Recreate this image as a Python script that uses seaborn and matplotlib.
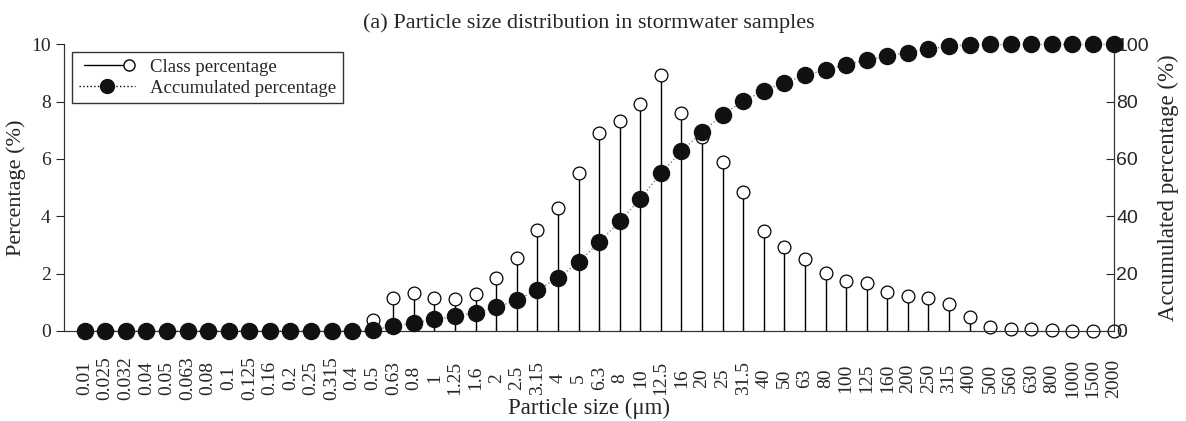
import seaborn as sns
import pandas as pd
import matplotlib.pyplot as plt
from matplotlib.legend_handler import HandlerLine2D
import numpy as np

sizes = ["0.01", "0.025", "0.032", "0.04", "0.05", "0.063", "0.08", "0.1", "0.125", "0.16",
         "0.2", "0.25", "0.315", "0.4", "0.5", "0.63", "0.8", "1", "1.25", "1.6",
         "2", "2.5", "3.15", "4", "5", "6.3", "8", "10", "12.5", "16",
         "20", "25", "31.5", "40", "50", "63", "80", "100", "125", "160",
         "200", "250", "315", "400", "500", "560", "630", "800", "1000", "1500", "2000"]

class_pct = [0, 0, 0, 0, 0, 0, 0, 0, 0, 0,
             0, 0, 0, 0, 0.38, 1.15, 1.31, 1.15, 1.1, 1.29,
             1.83, 2.54, 3.52, 4.27, 5.52, 6.89, 7.33, 7.93, 8.91, 7.61,
             6.77, 5.9, 4.83, 3.5, 2.94, 2.51, 2.01, 1.75, 1.66, 1.34,
             1.23, 1.16, 0.94, 0.5, 0.15, 0.07, 0.05, 0.02, 0, 0, 0]

accum_pct = [0, 0, 0, 0, 0, 0, 0, 0, 0, 0,
             0, 0, 0, 0, 0.4, 1.6, 2.8, 4.0, 5.1, 6.4,
             8.2, 10.7, 14.3, 18.5, 24.0, 30.9, 38.2, 46.1, 55.0, 62.6,
             69.4, 75.3, 80.2, 83.7, 86.6, 89.1, 91.1, 92.9, 94.5, 95.9,
             97.1, 98.3, 99.3, 99.8, 99.9, 100, 100, 100, 100, 100, 100]

df = pd.DataFrame({"pos": np.arange(len(sizes)), "size": sizes,
                   "class_pct": class_pct, "accum_pct": accum_pct})

serif = ["Liberation Serif", "DejaVu Serif"]
sans = ["Liberation Sans", "DejaVu Sans"]


class EndMarkerHandler(HandlerLine2D):
    # line with a single marker at its right end
    def create_artists(self, *args, **kwargs):
        artists = super().create_artists(*args, **kwargs)
        for a in artists:
            a.set_markevery([len(a.get_xdata()) - 1])
        return artists


sns.set_style("ticks")
plt.rcParams["font.family"] = serif

fig = plt.figure(figsize=(11.86, 4.21), dpi=100)
ax = fig.add_axes([0.054, 0.214, 0.885, 0.681])
ax2 = ax.twinx()

# stems + open circles for class percentage
ax.vlines(df["pos"], 0, df["class_pct"], color="black", lw=1.0, zorder=2)
sns.scatterplot(x="pos", y="class_pct", data=df, ax=ax, s=85, marker="o",
                facecolor="white", edgecolor="black", linewidth=0.9, zorder=3, legend=False)
ax.collections[-1].set_clip_on(False)

# accumulated: dotted line + filled circles (drawn above the class markers)
sns.lineplot(x="pos", y="accum_pct", data=df, ax=ax2, color="gray", lw=1.0,
             linestyle=":", zorder=1, legend=False)
sns.scatterplot(x="pos", y="accum_pct", data=df, ax=ax2, s=135, marker="o",
                color="#111111", edgecolor="#111111", zorder=4, legend=False)
ax2.collections[-1].set_clip_on(False)

ax.set_xlim(-1, len(sizes) - 1)
ax.set_ylim(0, 10)
ax2.set_ylim(0, 100)
ax.set_yticks([0, 2, 4, 6, 8, 10])
ax2.set_yticks([0, 20, 40, 60, 80, 100])

ax.set_xticks(df["pos"])
ax.set_xticklabels(sizes, rotation=90, fontsize=14, va="center")
ax.tick_params(axis="x", direction="in", length=4, pad=34)
ax.tick_params(axis="y", direction="out", length=6, labelsize=14)
ax2.tick_params(axis="y", direction="in", length=6, labelsize=14, pad=2)
for lab in ax2.get_yticklabels():
    lab.set_family(sans)

for a in (ax, ax2):
    a.spines["top"].set_visible(False)
    for s in ("left", "right", "bottom"):
        a.spines[s].set_color("#333333")

ax.set_xlabel("Particle size (μm)", fontsize=16.5)
ax.xaxis.set_label_coords(0.5, -0.232)
ax.set_ylabel("Percentage (%)", fontsize=16)
ax2.set_ylabel("Accumulated percentage (%)", fontsize=16.5, labelpad=6)
ax.set_title("(a) Particle size distribution in stormwater samples", fontsize=16, pad=12)

# legend
h1 = plt.Line2D([], [], color="black", lw=1.0, marker="o", markersize=8,
                markerfacecolor="white", markeredgecolor="black")
h2 = plt.Line2D([], [], color="black", lw=1.0, linestyle=":", marker="o", markersize=10,
                markerfacecolor="#111111", markeredgecolor="#111111")
leg = ax2.legend([h1, h2], ["Class percentage", "Accumulated percentage"],
                 loc="upper left", bbox_to_anchor=(0.0076, 0.972), borderaxespad=0,
                 fontsize=13.5, frameon=True, fancybox=False, edgecolor="#333333",
                 framealpha=1, handlelength=3.0, borderpad=0.35, labelspacing=0.2,
                 handletextpad=0.8, handler_map={h1: EndMarkerHandler(numpoints=2)})
leg.get_frame().set_linewidth(1.0)

fig.savefig("out.png", dpi=100)
